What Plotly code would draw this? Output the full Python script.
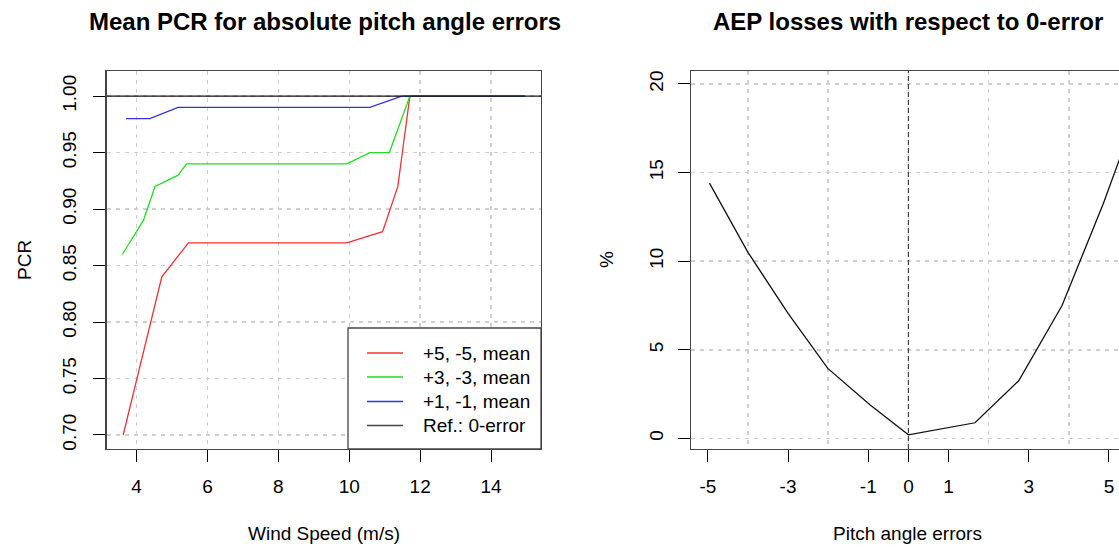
import plotly.graph_objects as go

W, H = 1119, 547

# ---------------- data ----------------
red_x = [3.62, 4.71, 5.46, 9.93, 10.94, 11.37, 11.71, 14.96]
red_y = [0.70, 0.84, 0.87, 0.87, 0.88, 0.92, 1.00, 1.00]

green_x = [3.60, 4.19, 4.52, 5.17, 5.41, 9.93, 10.58, 11.13, 11.71, 14.96]
green_y = [0.86, 0.89, 0.92, 0.93, 0.94, 0.94, 0.95, 0.95, 1.00, 1.00]

blue_x = [3.70, 4.37, 5.17, 10.58, 11.48, 14.96]
blue_y = [0.98, 0.98, 0.99, 0.99, 1.00, 1.00]

ref_level = 1.0

pitch_err = [-4.96, -4.0, -3.0, -2.01, -0.96, 0.0, 1.66, 2.75, 3.83, 4.86, 5.93]
aep_loss = [14.4, 10.5, 7.05, 3.95, 1.9, 0.2, 0.88, 3.25, 7.5, 13.25, 19.9]

series_names = ["+5, -5, mean", "+3, -3, mean", "+1, -1, mean", "Ref.: 0-error"]
series_colors = ["#ee3333", "#22dd22", "#3333dd", "#444444"]

left_xticks = [4, 6, 8, 10, 12, 14]
left_yticks = [0.70, 0.75, 0.80, 0.85, 0.90, 0.95, 1.00]
right_xticks = [-5, -3, -1, 0, 1, 3, 5]
right_xgrid = [-4, -2, 0, 2, 4]
right_yticks = [0, 5, 10, 15, 20]

# ---------------- layout helpers (pixel -> paper) ----------------
def px(x):
    return x / W

def py(y):
    return 1 - y / H

FONT = "Liberation Sans, Arial, sans-serif"
TICK_FONT = dict(family=FONT, size=19, color="#000")
GRID = "#d0d0d0"
BOX = "#444444"

fig = go.Figure()

for xs, ys, nm, col in zip([red_x, green_x, blue_x], [red_y, green_y, blue_y],
                           series_names[:3], series_colors[:3]):
    fig.add_trace(go.Scatter(x=xs, y=ys, mode="lines", name=nm, showlegend=False,
                             line=dict(color=col, width=1.3),
                             xaxis="x", yaxis="y"))

fig.add_trace(go.Scatter(x=pitch_err, y=aep_loss, mode="lines", showlegend=False,
                         line=dict(color="#111", width=1.3),
                         xaxis="x2", yaxis="y2"))

fig.add_shape(type="line", xref="x domain", x0=0, x1=1, yref="y",
              y0=ref_level, y1=ref_level, line=dict(color="#111", width=1.3),
              layer="above")
fig.add_shape(type="line", xref="x2", x0=0, x1=0, yref="y2 domain",
              y0=0, y1=1, line=dict(color="#444", width=1.2, dash="5px,3px"),
              layer="above")

# ---- legend box (drawn in paper coords, bottom-right of left panel) ----
leg_left, leg_right, leg_top, leg_bottom = 348, 541, 328, 449
fig.add_shape(type="rect", xref="paper", yref="paper",
              x0=px(leg_left), x1=px(leg_right), y0=py(leg_bottom), y1=py(leg_top),
              line=dict(color=BOX, width=1.3), fillcolor="white", layer="above")
row_y = [353, 377, 401.5, 425.5]
for nm, col, ry in zip(series_names, series_colors, row_y):
    fig.add_shape(type="line", xref="paper", yref="paper",
                  x0=px(367), x1=px(403), y0=py(ry), y1=py(ry),
                  line=dict(color=col, width=1.5), layer="above")
    fig.add_annotation(text=nm, x=px(421), y=py(ry), xref="paper", yref="paper",
                       showarrow=False, xanchor="left", yanchor="middle",
                       font=dict(family=FONT, size=19, color="#000"))

axis_common = dict(showline=True, linecolor=BOX, linewidth=1.3,
                   ticks="outside", ticklen=12, tickcolor="#000", tickwidth=1,
                   tickfont=TICK_FONT, gridcolor=GRID,
                   gridwidth=1.5, griddash="4px,5px", zeroline=False,
                   automargin=False, fixedrange=True)

fig.update_layout(
    width=W, height=H,
    margin=dict(l=0, r=0, t=0, b=0),
    paper_bgcolor="white", plot_bgcolor="white",
    showlegend=False,
    xaxis=dict(domain=[px(106.7), px(541)], range=[3.155, 15.41],
               tickmode="array", tickvals=left_xticks,
               ticktext=[str(v) for v in left_xticks], mirror=True,
               showgrid=True, ticklabelstandoff=8, anchor="y", **axis_common),
    yaxis=dict(domain=[py(449), py(71)], range=[0.6876, 1.0222],
               tickmode="array", tickvals=left_yticks,
               ticktext=[f"{v:.2f}" for v in left_yticks], tickangle=-90,
               mirror=True, showgrid=True, ticklabelstandoff=10, anchor="x",
               **axis_common),
    xaxis2=dict(domain=[px(691), 1.0], range=[-5.42, 5.25],
                tickmode="array", tickvals=right_xticks,
                ticktext=[str(v) for v in right_xticks], mirror=True,
                showgrid=False, ticklabelstandoff=8, anchor="y2",
                minor=dict(tickmode="array", tickvals=right_xgrid, showgrid=True,
                           gridcolor=GRID, gridwidth=1.5, griddash="4px,5px",
                           ticks=""),
                **axis_common),
    yaxis2=dict(domain=[py(449), py(71)], range=[-0.6, 20.73],
                tickmode="array", tickvals=right_yticks,
                ticktext=[str(v) for v in right_yticks], tickangle=-90,
                mirror=False, showgrid=True, ticklabelstandoff=7, anchor="x2",
                **axis_common),
)

ann = [
    dict(text="<b>Mean PCR for absolute pitch angle errors</b>", x=px(325), y=py(22),
         size=24),
    dict(text="<b>AEP losses with respect to 0-error</b>", x=px(908), y=py(22),
         size=24),
    dict(text="Wind Speed (m/s)", x=px(324), y=py(533), size=19),
    dict(text="Pitch angle errors", x=px(908), y=py(533), size=19),
]
for a in ann:
    fig.add_annotation(text=a["text"], x=a["x"], y=a["y"], xref="paper", yref="paper",
                       showarrow=False, xanchor="center", yanchor="middle",
                       font=dict(family=FONT, size=a["size"], color="#000"))
for txt, xx in [("PCR", 24), ("%", 606)]:
    fig.add_annotation(text=txt, x=px(xx), y=py(260), xref="paper", yref="paper",
                       showarrow=False, textangle=-90, xanchor="center",
                       yanchor="middle", font=dict(family=FONT, size=19, color="#000"))

fig.write_html("out.html",
               config={"displayModeBar": False, "staticPlot": True},
               post_script="document.body.style.margin='0';document.body.style.overflow='hidden';")
